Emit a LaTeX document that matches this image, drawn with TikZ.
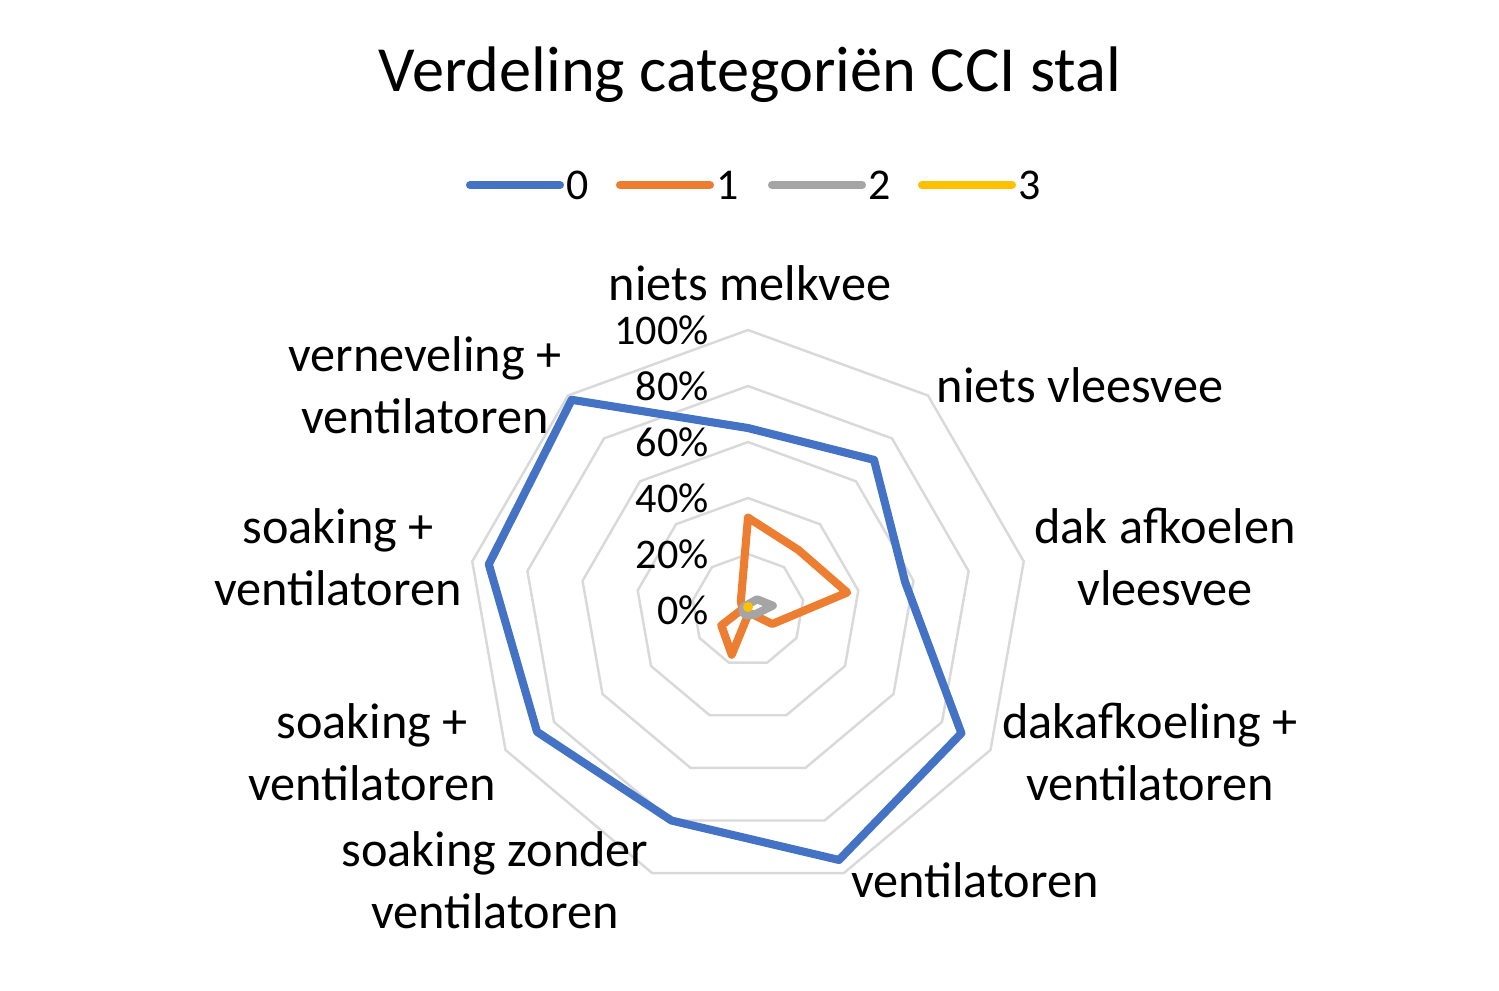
\documentclass[tikz,border=0pt]{standalone}
\usepackage{fontspec}
\setmainfont{Carlito}
\definecolor{serA}{RGB}{68,114,196}
\definecolor{serB}{RGB}{237,125,49}
\definecolor{serC}{RGB}{165,165,165}
\definecolor{serD}{RGB}{255,192,0}
\definecolor{gridc}{RGB}{217,217,217}
\begin{document}
\begin{tikzpicture}[
    x=0.01cm, y=-0.01cm,
    ring/.style={gridc, line width=0.7pt},
    series/.style={line width=2.3pt, line join=round},
    axislabel/.style={font=\fontsize{14.3}{17.5}\selectfont, align=center},
    pct/.style={font=\fontsize{12}{14}\selectfont, anchor=east}
]
\useasboundingbox (0,0) rectangle (1499,990);

% Title
\node[font=\fontsize{18.3}{22}\selectfont] (title) at (750,75) {Verdeling categoriën CCI stal};

% Legend
\foreach \c/\x/\t in {serA/470/0,serB/620/1,serC/772/2,serD/922/3}{
    \coordinate (l\t a) at (\x,185);
    \coordinate (l\t b) at (\x+90,185);
    \draw[\c, line width=2.3pt, line cap=round] (l\t a) -- (l\t b);
    \node[font=\fontsize{12.5}{14}\selectfont, anchor=west, inner sep=1pt] (leg\t) at (\x+92,185) {\t};
}

% Grid rings
\foreach \r in {0.2,0.4,0.6,0.8,1.0}{
    \draw[ring] (748,{610-280*\r})
      \foreach \a in {40,80,...,320}{ -- ({748+280*\r*sin(\a)},{610-280*\r*cos(\a)}) } -- cycle;
}

% Percent labels
\foreach \v/\t in {0/0\%,0.2/20\%,0.4/40\%,0.6/60\%,0.8/80\%,1.0/100\%}{
    \node[pct] at (721,{610-280*\v}) {\t};
}

% Series
\foreach \c/\vals in {serA/{0.65,0.70,0.57,0.88,0.95,0.80,0.87,0.94,0.98},
                      serB/{0.33,0.28,0.36,0.10,0.01,0.17,0.11,0.02,0.04},
                      serC/{0.02,0.05,0.09,0.03,0.02,0.02,0.02,0.02,0.02}}{
    \draw[series, \c] \foreach \v [count=\i from 0] in \vals {
        \ifnum\i=0 ({748+280*\v*sin(40*\i)},{610-280*\v*cos(40*\i)}) \else -- ({748+280*\v*sin(40*\i)},{610-280*\v*cos(40*\i)}) \fi
    } -- cycle;
}
\fill[serD] (748,607) circle (5);

% Axis labels
\node[axislabel] (melk) at (750,283) {niets melkvee};
\node[axislabel] (vlees) at (1080,385) {niets vleesvee};
\node[axislabel] (dak) at (1165,557) {dak afkoelen\\vleesvee};
\node[axislabel] (dakvent) at (1150,752) {dakafkoeling +\\ventilatoren};
\node[axislabel] (vent) at (975,880) {ventilatoren};
\node[axislabel] (soakz) at (495,880) {soaking zonder\\ventilatoren};
\node[axislabel] (soakb) at (372,752) {soaking +\\ventilatoren};
\node[axislabel] (soaka) at (338,557) {soaking +\\ventilatoren};
\node[axislabel] (vern) at (425,385) {verneveling +\\ventilatoren};
\end{tikzpicture}
\end{document}
